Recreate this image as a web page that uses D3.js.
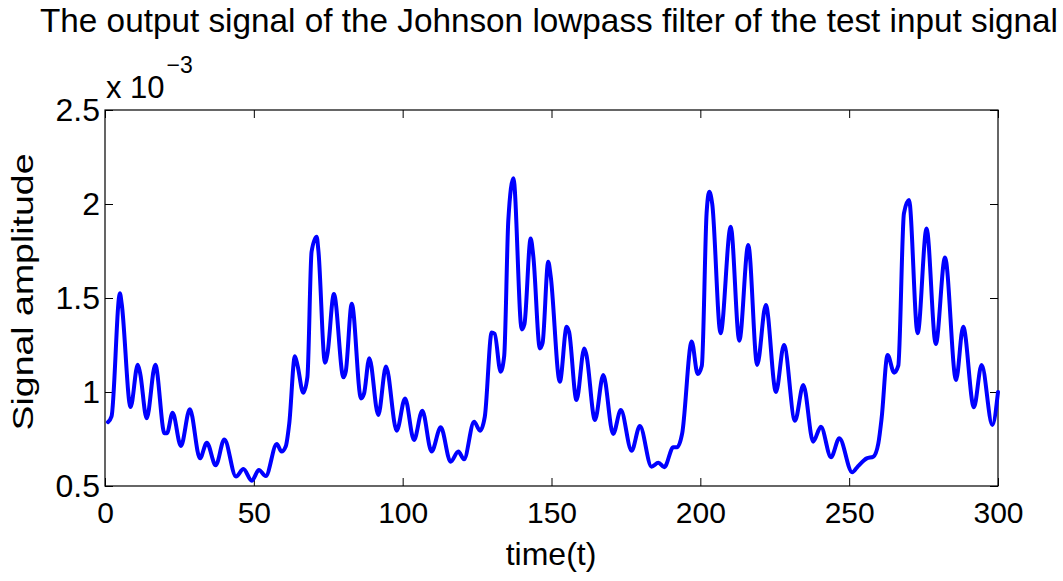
<!DOCTYPE html>
<html>
<head>
<meta charset="utf-8">
<script src="https://cdn.jsdelivr.net/npm/d3@7"></script>
<style>
  body { margin: 0; background: #fff; }
  svg { display: block; font-family: "Liberation Sans", Arial, Helvetica, sans-serif; }
</style>
</head>
<body>
<svg id="chart" width="1063" height="581"></svg>
<script>
// time samples (at the turning points of the curve)
const times = [
  1, 2.2, 5.0, 5.6, 8.6, 11.0, 11.8, 14.0, 16.9, 20.0, 20.8, 22.7, 25.5, 28.5, 31.9, 34.2, 37.2, 40.1,
  44.0, 46.5, 49.3, 51.7, 54.0, 57.7, 59.3, 60.7, 61.9, 63.8, 64.7, 66.6, 68.0, 69.4, 71.1, 71.7,
  73.9, 74.7, 76.9, 80.1, 80.9, 82.9, 86.0, 87.0, 88.8, 91.8, 94.4, 98.0, 100.8, 103.8, 106.6,
  109.7, 112.8, 116.1, 118.7, 120.6, 124.0, 126.0, 127.6, 129.9, 130.9, 132.9, 134.1, 135.5, 137.2,
  140.0, 140.9, 143.0, 143.9, 146.1, 147.0, 148.9, 149.7, 152.8, 155.1, 155.9, 158.4, 161.0, 161.7,
  164.6, 167.4, 170.7, 173.3, 176.9, 179.7, 183.6, 185.9, 187.9, 190.9, 192.2, 193.9, 197.1, 199.1,
  200.5, 202.1, 203.0, 204.0, 206.8, 210.2, 213.1, 216.1, 219.1, 222.0, 225.4, 228.1, 231.8, 234.6,
  237.9, 240.5, 243.9, 246.7, 251.0, 253.0, 255.9, 258.1, 259.8, 260.9, 262.9, 265.1, 266.5, 268.4,
  270.1, 273.0, 276.0, 279.1, 282.2, 285.9, 288.3, 291.9, 294.5, 298.1, 300
]
// signal amplitude, in units of 1e-3
const amplitude = [
  0.84, 0.87, 1.525, 1.47, 0.92, 1.145, 1.10, 0.86, 1.145, 0.78, 0.78, 0.89, 0.713, 0.908, 0.647, 0.73, 0.61, 0.748,
  0.55, 0.59, 0.528, 0.585, 0.553, 0.723, 0.683, 0.71, 0.833, 1.19, 1.14, 0.996, 1.08, 1.746, 1.826, 1.75,
  1.156, 1.20, 1.521, 1.078, 1.11, 1.47, 0.966, 0.99, 1.18, 0.878, 1.135, 0.794, 0.966, 0.745, 0.9,
  0.683, 0.812, 0.629, 0.683, 0.642, 0.842, 0.794, 0.869, 1.316, 1.31, 1.108, 1.19, 1.915, 2.137,
  1.333, 1.36, 1.817, 1.72, 1.232, 1.26, 1.693, 1.62, 1.055, 1.347, 1.32, 0.957, 1.232, 1.2,
  0.851, 1.09, 0.777, 0.904, 0.688, 0.819, 0.603, 0.624, 0.6, 0.706, 0.706, 0.78, 1.268, 1.096,
  1.14, 1.95, 2.065, 2.0, 1.312, 1.879, 1.273, 1.782, 1.144, 1.463, 1.0, 1.25, 0.847, 1.037,
  0.736, 0.815, 0.653, 0.754, 0.573, 0.606, 0.647, 0.656, 0.727, 0.86, 1.197, 1.103, 1.14, 1.95,
  2.021, 1.312, 1.87, 1.255, 1.716, 1.064, 1.347, 0.919, 1.144, 0.824, 1.0
]
const xTicks = [0, 50, 100, 150, 200, 250, 300]
const yTicks = [0.5, 1, 1.5, 2, 2.5]
const yTickLabels = ['0.5', '1', '1.5', '2', '2.5']

const svg = d3.select('#chart')
const plotLeft = 105, plotRight = 998, plotTop = 110, plotBottom = 486

const x = d3.scaleLinear().domain([0, 300]).range([plotLeft, plotRight])
const y = d3.scaleLinear().domain([0.5, 2.5]).range([plotBottom, plotTop])

const points = times.map((t, i) => ({t: t, v: amplitude[i]}))

// title
svg.append('text')
  .attr('x', 549)
  .attr('y', 32)
  .attr('text-anchor', 'middle')
  .style('font-size', '33.3px')
  .text('The output signal of the Johnson lowpass filter of the test input signal')

// axes, matlab style: inward ticks on all four sides
const tickLen = 8

svg.append('g')
  .attr('class', 'xax')
  .attr('transform', `translate(0,${plotBottom})`)
  .call(d3.axisBottom(x).tickValues(xTicks).tickSize(-tickLen).tickPadding(16).tickFormat(d3.format('d')))
svg.append('g')
  .attr('transform', `translate(0,${plotTop})`)
  .call(d3.axisTop(x).tickValues(xTicks).tickSize(-tickLen).tickFormat(''))

svg.append('g')
  .attr('class', 'yax')
  .attr('transform', `translate(${plotLeft},0)`)
  .call(d3.axisLeft(y).tickValues(yTicks).tickSize(-tickLen).tickPadding(5).tickFormat((d, i) => yTickLabels[i]))
svg.append('g')
  .attr('transform', `translate(${plotRight},0)`)
  .call(d3.axisRight(y).tickValues(yTicks).tickSize(-tickLen).tickFormat(''))

svg.selectAll('.domain').remove()
svg.selectAll('.tick line').attr('stroke', '#000').attr('stroke-width', 1)
svg.selectAll('.tick text')
  .attr('fill', '#000')
  .style('font-family', '"Liberation Sans", Arial, Helvetica, sans-serif')
svg.selectAll('.xax .tick text').style('font-size', '30px')
svg.selectAll('.yax .tick text').style('font-size', '32px')

// the box
svg.append('rect')
  .attr('x', plotLeft)
  .attr('y', plotTop)
  .attr('width', plotRight - plotLeft)
  .attr('height', plotBottom - plotTop)
  .attr('fill', 'none')
  .attr('stroke', '#000')
  .attr('stroke-width', 1.2)

// signal line
const line = d3.line()
  .curve(d3.curveMonotoneX)
  .x(d => x(d.t))
  .y(d => y(d.v))

svg.append('path')
  .datum(points)
  .attr('d', line)
  .attr('fill', 'none')
  .attr('stroke', '#0000ff')
  .attr('stroke-width', 4)
  .attr('stroke-linejoin', 'round')
  .attr('stroke-linecap', 'round')

// axis labels
svg.append('text')
  .attr('x', 551)
  .attr('y', 565)
  .attr('text-anchor', 'middle')
  .style('font-size', '32px')
  .text('time(t)')

svg.append('text')
  .attr('transform', `translate(33,292) rotate(-90)`)
  .attr('text-anchor', 'middle')
  .attr('textLength', 277)
  .attr('lengthAdjust', 'spacingAndGlyphs')
  .style('font-size', '30px')
  .text('Signal amplitude')

// exponent label
const expo = svg.append('text')
  .attr('x', 106)
  .attr('y', 98)
  .style('font-size', '31px')
expo.append('tspan').text('x 10')
expo.append('tspan')
  .attr('dy', -25)
  .attr('dx', 2)
  .style('font-size', '23px')
  .text('\u22123')
</script>
</body>
</html>
